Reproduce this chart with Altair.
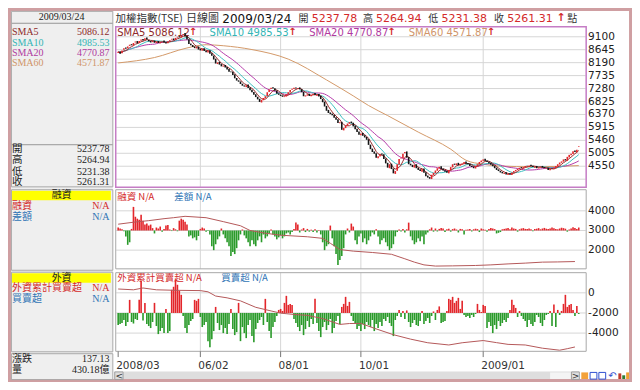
import altair as alt
import pandas as pd

W, H = 624, 374
SX, SY = W / 640.0, H / 390.0


def X(v):
    return round(v * SX, 2)


def Y(v):
    return round(v * SY, 2)


# ---------------- data ----------------
quote_date = "2009/03/24"
sma_names = ["SMA5", "SMA10", "SMA20", "SMA60"]
sma_last = [5086.12, 4985.53, 4770.87, 4571.87]
ohlc_names = ["開", "高", "低", "收"]
ohlc_last = [5237.78, 5264.94, 5231.38, 5261.31]
change_last = 137.13
volume_text = "430.18億"
margin_title = "融資"
margin_names = ["融資", "差額"]
foreign_title = "外資"
foreign_names = ["外資累計買賣超", "買賣超"]
na_text = "N/A"

close = [
    8572, 8500, 8620, 8700, 8680, 8760, 8820, 8800, 8880, 8930,
    8870, 8950, 9000, 8970, 9050, 9000, 8940, 8900, 8960, 8890,
    8930, 8880, 8920, 8950, 8900, 8860, 8930, 8980, 9030, 8980,
    9060, 9100, 9080, 9150, 9200, 9120, 9000, 8850, 8800, 8740,
    8700, 8740, 8650, 8620, 8680, 8600, 8560, 8610, 8500, 8430,
    8300, 8160, 8200, 8120, 8060, 8090, 8020, 7950, 7870, 7850,
    7760, 7640, 7560, 7520, 7440, 7380, 7350, 7400, 7300, 7220,
    7150, 7060, 6980, 6900, 6810, 6880, 6950, 7010, 7150, 7250,
    7310, 7280, 7200, 7100, 7060, 7020, 6990, 7010, 7080, 7150,
    7230, 7270, 7310, 7280, 7300, 7250, 7150, 7010, 7040, 7080,
    7020, 7060, 7100, 7050, 7080, 7000, 6910, 6800, 6650, 6500,
    6420, 6380, 6340, 6250, 6180, 6070, 6100, 5830, 5900, 5980,
    6050, 6100, 6070, 5950, 5850, 5750, 5660, 5700, 5620, 5560,
    5480, 5300, 5150, 5050, 4990, 4850, 4900, 4980, 4955, 4800,
    4650, 4500, 4620, 4450, 4300, 4380, 4620, 4800, 4850, 4990,
    5050, 4850, 4620, 4580, 4520, 4600, 4480, 4420, 4380, 4450,
    4320, 4200, 4150, 4110, 4250, 4320, 4400, 4480, 4530, 4450,
    4400, 4360, 4320, 4420, 4520, 4620, 4600, 4650, 4580, 4620,
    4650, 4700, 4640, 4620, 4560, 4520, 4480, 4560, 4620, 4700,
    4750, 4790, 4730, 4700, 4650, 4600, 4550, 4480, 4420, 4380,
    4330, 4300, 4320, 4260, 4280, 4250, 4330, 4380, 4420, 4460,
    4500, 4480, 4520, 4560, 4550, 4580, 4560, 4520, 4540, 4480,
    4510, 4540, 4500, 4480, 4480, 4420, 4460, 4450, 4500, 4560,
    4620, 4680, 4720, 4790, 4750, 4880, 4950, 4990, 5080, 5050,
    5125, 5261.31,
]
open_ = [
    8530, 8590, 8520, 8640, 8720, 8690, 8780, 8840, 8790, 8900,
    8950, 8880, 8960, 9020, 8990, 9070, 8990, 8950, 8910, 8970,
    8880, 8950, 8870, 8930, 8970, 8910, 8870, 8940, 9000, 9040,
    8990, 9070, 9120, 9090, 9160, 9230, 9130, 9010, 8860, 8810,
    8760, 8690, 8760, 8670, 8610, 8700, 8610, 8550, 8630, 8520,
    8440, 8330, 8140, 8220, 8140, 8050, 8110, 8040, 7970, 7880,
    7870, 7780, 7650, 7570, 7530, 7450, 7390, 7330, 7420, 7320,
    7240, 7160, 7080, 6990, 6920, 6790, 6870, 6940, 7020, 7160,
    7260, 7330, 7290, 7210, 7110, 7070, 7040, 6980, 7000, 7070,
    7140, 7240, 7260, 7320, 7270, 7320, 7260, 7160, 7000, 7030,
    7100, 7010, 7050, 7120, 7030, 7090, 7020, 6920, 6820, 6670,
    6530, 6440, 6400, 6360, 6270, 6200, 6060, 6110, 5810, 5890,
    5970, 6040, 6120, 6080, 5970, 5870, 5770, 5640, 5720, 5640,
    5580, 5500, 5310, 5170, 5070, 5010, 4830, 4890, 5000, 4970,
    4820, 4670, 4480, 4640, 4470, 4280, 4390, 4610, 4820, 4830,
    5010, 5070, 4870, 4640, 4600, 4500, 4620, 4500, 4440, 4360,
    4470, 4340, 4220, 4170, 4100, 4240, 4310, 4390, 4470, 4550,
    4470, 4410, 4380, 4300, 4410, 4510, 4640, 4590, 4670, 4570,
    4610, 4640, 4720, 4660, 4640, 4570, 4540, 4470, 4550, 4610,
    4690, 4740, 4810, 4750, 4710, 4670, 4620, 4570, 4500, 4440,
    4390, 4350, 4280, 4340, 4240, 4300, 4240, 4320, 4370, 4410,
    4450, 4520, 4470, 4510, 4570, 4540, 4600, 4570, 4500, 4560,
    4470, 4500, 4560, 4520, 4460, 4500, 4410, 4470, 4440, 4490,
    4540, 4610, 4670, 4710, 4800, 4740, 4860, 4940, 4980, 5100,
    5040, 5237.78,
]
sma60_idx = [0, 19, 36, 46, 55, 70, 89, 109, 123, 131, 141, 157, 174, 182, 191, 199, 218, 241]
sma60_val = [8180, 8370, 8706, 8820, 8785, 8650, 8315, 7584, 7023, 6684, 6330, 5750, 5150, 4760,
             4620, 4560, 4530, 4572]

margin_diff = [
    150, 100, 60, -40, -300, -730, -600, 80, 1200, 700,
    600, 550, 800, 500, 300, 350, 250, 300, 120, -150,
    150, 100, 200, -60, 80, 250, 280, 50, -30, 120,
    60, -40, 500, 600, 550, 450, 300, -300, -250, -400,
    -350, -500, -280, 80, 150, 100, -60, -30, -200, -800,
    -1000, -700, -450, -300, 100, -200, -400, -600, -800, -1300,
    -1100, -1200, -900, -500, -200, 50, -250, -400, -600, -800,
    -500, -700, -800, -500, -300, -600, -200, -400, -300, -150,
    50, -200, -300, -450, -350, -250, -400, -300, -150, -100,
    -200, -80, 80, 400, 300, -100, 50, 120, -80, 80,
    -60, 40, -80, 60, -100, 30, -200, -600, -1000, -800,
    -700, 250, -400, -800, -1200, -1750, -1500, -1300, -900, -200,
    100, -100, 350, 200, -500, -700, -300, -150, -600, -400,
    -700, -500, -300, -100, -200, 60, -300, -700, -500, -400,
    -600, -800, -1000, -900, -700, -300, -80, 50, -50, 80,
    -100, 60, 400, -300, -500, -700, -600, -400, -550, -300,
    -700, -200, -100, 60, 150, -60, 100, -50, 80, 120,
    100, -80, 60, 90, -60, 70, 100, 50, -100, 80,
    60, -200, 40, 50, 80, -50, 60, 90, 70, -80,
    100, 60, 40, -60, 80, 120, 100, 70, -150, -120,
    -80, 60, 80, 100, 130, 60, 150, 100, 80, -60,
    60, 100, 120, 80, 70, 100, 60, -40, 80, 90,
    120, 60, 100, 130, 90, 70, 100, 150, 110, 80,
    60, 100, 140, 120, 90, -60, 50, 100, 160, 120,
    80, 150,
]
margin_idx = [0, 8, 16, 24, 29, 35, 46, 55, 64, 69, 77, 85, 99, 107, 111, 116, 123, 133, 143, 150,
              155, 160, 166, 175, 187, 195, 204, 213, 222, 230, 239]
margin_val = [3320, 3420, 3500, 3600, 3650, 3720, 3650, 3450, 3240, 3000, 2860, 2760, 2680, 2600,
              2350, 2030, 1950, 1880, 1790, 1560, 1390, 1250, 1190, 1200, 1220, 1250, 1300, 1340,
              1390, 1400, 1420]

foreign_diff = [
    -1200, -1100, -1000, -700, -1300, -900, 1300, -900, -1050, -600,
    -700, 1300, 3200, -750, 1000, -1100, -1300, -1500, -900, 1000,
    -1300, -2100, -1800, -1500, -2000, 400, -2000, -1800, 2300, 2600,
    3300, 2800, 2200, 1800, -300, -1500, -2000, -1200, -800, -600,
    1300, 1200, 1400, -400, -1400, -1200, -900, -2800, -3400, -2600,
    -1800, 600, -1000, -1700, -1200, -2000, -1500, -2100, -1100, 400,
    -1600, -2200, -1900, 1000, -2800, -1400, -2000, -2500, -1200, -700,
    -2300, -2900, -1600, -1000, -700, -400, -1200, 1400, -900, -1800,
    -2500, -1400, -900, -300, 300, 400, 200, 1000, 1700, 800,
    900, 800, -600, -1000, -1400, -1800, -1200, -2200, -1600, -800,
    -1400, -600, -1100, 1400, -1000, -1800, -2400, -1400, -900, -1700,
    -1200, -600, -2000, -1500, -800, -300, -1100, 600, 900, 1600,
    700, 1100, -300, -800, -1000, -1600, -1300, -1800, -1100, -1600,
    -900, -1200, -1400, -700, -1800, -1100, -1500, -900, -1300, -600,
    -800, -400, -1000, -1300, -2300, -700, -300, 300, -400, 200,
    -600, 250, -900, -1400, -1000, -700, -1200, -1300, -800, 200,
    -1100, -800, -500, -1000, -300, 150, -700, 300, 650, -1000,
    -900, -800, 200, 1400, 1300, 1600, 1000, 1200, 1500, 400,
    1200, -200, -400, -300, -500, -200, -400, -100, 900, 300,
    100, 800, 700, -1500, -900, -1300, -2000, -1200, -1600, -800,
    -1300, -1000, -700, -900, -500, 300, 1300, 800, 500, -400,
    200, -300, -600, -800, -1400, -700, -1100, -1300, -900, -200,
    -400, -1000, -1300, -700, -200, -100, 200, -1300, 850, -1400,
    300, -200, 200, 900, 1800, 600, 800, 900, 300, -300,
    700, -100,
]
foreign_idx = [0, 8, 13, 20, 30, 43, 47, 51, 57, 64, 72, 80, 85, 92, 99, 107, 116, 121, 127, 134,
               144, 153, 162, 173, 180, 191, 198, 204, 213, 222, 231, 235, 239]
foreign_val = [380, 300, 480, 300, 250, 220, 100, -320, -500, -800, -1440, -1800, -2020, -2150,
               -2240, -2560, -3140, -3050, -3040, -3520, -4160, -4600, -4960, -5180, -4960, -4740,
               -4950, -5120, -5180, -5500, -5700, -5550, -5380]

tick_idx = [0, 43, 85, 127, 191]
tick_labels = ["2008/03", "06/02", "08/01", "10/01", "2009/01"]
price_ticks = [9100, 8645, 8190, 7735, 7280, 6825, 6370, 5915, 5460, 5005, 4550]
price_grid = price_ticks + [4095]
margin_ticks = [4000, 3000, 2000]
foreign_ticks = [0, -2000, -4000]

# ---------------- styles ----------------
SANS = "DejaVu Sans"
CJK = "Noto Sans CJK TC"
SERIF = "Liberation Serif, Noto Sans CJK TC"
RED_T = "#d42a2a"
BLUE_T = "#2f74b5"
UP, DOWN = "#e3262b", "#141414"
BAR_RED, BAR_GREEN = "#e3262b", "#2a9a2a"
GRID = "#d6d6d6"
SMA_LINE = ["#9a2c2c", "#3cc0c0", "#b63cab", "#d49a6a"]
SMA_TEXT = ["#8e2a2a", "#33b5b5", "#b03aa0", "#d0956a"]
SUB_LINE = "#b5595a"


def sc(domain, rng):
    return alt.Scale(domain=domain, range=rng, zero=False, nice=False)


XS = sc([0, 241], [X(113), X(585.4)])
YP = sc([4550, 9100], [Y(165), Y(30)])
YM = sc([2000, 4000], [Y(252.5), Y(211.5)])
YF = sc([-4000, 0], [Y(339), Y(297)])


def xq(f):
    return alt.X(f"{f}:Q", scale=XS, axis=None)


def yq(f, s):
    return alt.Y(f"{f}:Q", scale=s, axis=None)


def texts(rows, font, align="left", weight="normal"):
    d = pd.DataFrame(rows, columns=["t", "x", "y", "c", "s"])
    d["x"] = d["x"] * SX
    d["y"] = d["y"] * SY
    return alt.Chart(d).mark_text(align=align, baseline="middle", font=font, fontWeight=weight).encode(
        x=alt.X("x:Q", scale=None, axis=None), y=alt.Y("y:Q", scale=None, axis=None),
        text="t:N", color=alt.Color("c:N", scale=None), size=alt.Size("s:Q", scale=None))


def boxes(rows, outline=False):
    d = pd.DataFrame(rows, columns=["xa", "ya", "xb", "yb", "c", "w"])
    d["xa"] = d["xa"] * SX
    d["xb"] = d["xb"] * SX
    d["ya"] = d["ya"] * SY
    d["yb"] = d["yb"] * SY
    enc = dict(x=alt.X("xa:Q", scale=None, axis=None), x2="xb",
               y=alt.Y("ya:Q", scale=None, axis=None), y2="yb")
    if outline:
        return alt.Chart(d).mark_rect(fillOpacity=0).encode(
            stroke=alt.Stroke("c:N", scale=None), strokeWidth=alt.StrokeWidth("w:Q", scale=None), **enc)
    return alt.Chart(d).mark_rect().encode(color=alt.Color("c:N", scale=None), **enc)


def hgrid(vals, ys):
    return alt.Chart(pd.DataFrame({"v": vals})).mark_rule(color=GRID, strokeWidth=1).encode(
        y=yq("v", ys), x=alt.value(X(111)), x2=alt.value(X(592.5)))


def vgrid(y1, y2):
    return alt.Chart(pd.DataFrame({"i": tick_idx[1:]})).mark_rule(color=GRID, strokeWidth=1).encode(
        x=xq("i"), y=alt.value(Y(y1)), y2=alt.value(Y(y2)))


def ylab(vals, ys):
    d = pd.DataFrame({"v": vals, "t": [str(v) for v in vals]})
    return alt.Chart(d).mark_text(align="left", baseline="middle", font=SANS, fontSize=10.5,
                                  color="#222222").encode(y=yq("v", ys), x=alt.value(X(595)), text="t:N")


def line(df, xf, yf, ys, color, interp="linear", w=1.0):
    return alt.Chart(df).mark_line(color=color, strokeWidth=w, interpolate=interp).encode(
        x=xq(xf), y=yq(yf, ys))


# ---------------- frames ----------------
fill_rows = [
    (3, 3, 107.5, 387.5, "#efefef", 0),
    (3.5, 190.5, 105.5, 200.5, "#ffff00", 0),
    (3.5, 276.5, 105.5, 286.5, "#ffff00", 0),
    (109, 379, 586, 388, "#dedede", 0),
    (556, 380, 577, 387, "#f4f4f4", 0),
    (588, 380, 595, 387, "#f3a23a", 0),
    (626, 381, 629, 387, "#c0392b", 0),
    (630, 383, 633, 387, "#2e7d32", 0),
    (634, 380, 637, 387, "#f0a030", 0),
]
outline_rows = [
    (1.5, 1.5, 638.5, 388.5, "#cf9fa2", 3),
    (3.5, 3.5, 107.5, 186.5, "#a9a9a9", 1),
    (3.5, 189.5, 107.5, 273.5, "#a9a9a9", 1),
    (3.5, 275.5, 107.5, 358.5, "#a9a9a9", 1),
    (3.5, 360.5, 107.5, 387.5, "#a9a9a9", 1),
    (110.5, 19.5, 593, 187, "#c57dc5", 1.5),
    (110.5, 189.5, 593, 272, "#a8a8a8", 1),
    (110.5, 276, 593, 358, "#a8a8a8", 1),
    (109.5, 379.5, 118, 387.5, "#a0a0a0", 1),
    (578, 379.5, 586, 387.5, "#a0a0a0", 1),
    (597, 380, 604, 387, "#3050d0", 1),
    (606, 380, 613, 387, "#3050d0", 1),
    (3.5, 16, 107.5, 16, "#a9a9a9", 1),
    (3.5, 142.5, 107.5, 142.5, "#a9a9a9", 1),
]

# ---------------- data frames ----------------
px = pd.DataFrame({"i": range(len(close)), "o": open_, "c": close})
px["x0"] = px["i"] - 0.42
px["x1"] = px["i"] + 0.42
for w in (5, 10, 20):
    px[f"s{w}"] = px["c"].rolling(w, min_periods=1).mean()
s60 = pd.DataFrame({"i": sma60_idx, "v": sma60_val})

md = pd.DataFrame({"i": range(len(margin_diff)), "d": margin_diff})
md["x0"] = md["i"] - 0.42
md["x1"] = md["i"] + 0.42
md["b"] = 3000
md["t"] = 3000 + md["d"]
ml = pd.DataFrame({"i": margin_idx, "v": margin_val})

fd = pd.DataFrame({"i": range(len(foreign_diff)), "d": foreign_diff})
fd["x0"] = fd["i"] - 0.42
fd["x1"] = fd["i"] + 0.42
fd["b"] = -2000
fd["t"] = -2000 + fd["d"]
fl = pd.DataFrame({"i": foreign_idx, "v": foreign_val})

candles = alt.Chart(px).mark_rect().encode(
    x=xq("x0"), x2="x1", y=yq("o", YP), y2="c",
    color=alt.condition("datum.c >= datum.o", alt.value(UP), alt.value(DOWN)))
mbars = alt.Chart(md).mark_rect().encode(
    x=xq("x0"), x2="x1", y=yq("b", YM), y2="t",
    color=alt.condition("datum.d >= 0", alt.value(BAR_RED), alt.value(BAR_GREEN)))
fbars = alt.Chart(fd).mark_rect().encode(
    x=xq("x0"), x2="x1", y=yq("b", YF), y2="t",
    color=alt.condition("datum.d >= 0", alt.value(BAR_RED), alt.value(BAR_GREEN)))

td = pd.DataFrame({"i": tick_idx, "t": tick_labels})
xticks = alt.Chart(td).mark_rule(color="#777777").encode(
    x=xq("i"), y=alt.value(Y(358)), y2=alt.value(Y(364)))
xlabels = alt.Chart(td).mark_text(align="left", baseline="middle", font=SANS, fontSize=10.5,
                                  color="#333333", dx=-2).encode(
    x=xq("i"), y=alt.value(Y(373.5)), text="t:N")

# ---------------- texts ----------------
legend_x = [112, 206.7, 309, 411]
arrow_x = [185.5, 287.5, 389, 491]
legend_rows = [(f"{n} {v:.2f}", lx, 25.8, c, 10)
               for n, v, lx, c in zip(sma_names, sma_last, legend_x, SMA_TEXT)]
arrow_rows = [("↑", ax, 25.3, RED_T, 10) for ax in arrow_x] + [("↑", 562.5, 10.5, RED_T, 11)]

title_cjk = [("加權指數(TSE)", 110.3, 11, "#333333", 10.5), ("日線圖", 182.6, 11, "#333333", 11)]
title_num = [(quote_date, 219.8, 11, "#111111", 12)]
hx = [298, 364, 431, 498.5]
vx = [311.5, 377.5, 444.5, 512]
for n, v, a, b in zip(ohlc_names, ohlc_last, hx, vx):
    title_cjk.append((n, a, 11, "#333333", 10))
    title_num.append((f"{v:.2f}", b, 11, RED_T, 11))
title_cjk.append(("點", 573.5, 11, "#333333", 10))

sub_legend = [
    (f"{margin_names[0]} {na_text}", 112, 197, RED_T, 9.5),
    (f"{margin_names[1]} {na_text}", 170.6, 197, BLUE_T, 9.5),
    (f"{foreign_names[0]} {na_text}", 112, 282, RED_T, 9.5),
    (f"{foreign_names[1]} {na_text}", 218.8, 282, BLUE_T, 9.5),
]

sma_y = [25.3, 36, 46.7, 57.5]
ohlc_y = [147.5, 159, 170.5, 181.5]
left_l = [(n, 4, y, c, 10) for n, y, c in zip(sma_names, sma_y, SMA_TEXT)]
left_r = [(f"{v:.2f}", 104, y, c, 10) for v, y, c in zip(sma_last, sma_y, SMA_TEXT)]
for n, v, y in zip(ohlc_names, ohlc_last, ohlc_y):
    left_l.append((n, 4, y, "#222222", 10.5))
    left_r.append((f"{v:.2f}", 104, y, "#222222", 10))
for names, ys in ((margin_names, [206, 217.5]), (foreign_names, [292, 303.5])):
    for n, y, c in zip(names, ys, [RED_T, BLUE_T]):
        left_l.append((n, 4, y, c, 10))
        left_r.append((na_text, 104, y, c, 10))
left_l += [("漲跌", 4, 366.5, "#222222", 10), ("量", 4, 378, "#222222", 10)]
left_r += [(f"{change_last:.2f}", 104, 366.5, "#222222", 10), (volume_text, 104, 378, "#222222", 10)]
left_c = [(quote_date, 55, 9.5, "#222222", 10), (margin_title, 55, 195.5, "#222222", 10),
          (foreign_title, 55, 281.5, "#222222", 10)]
misc_c = [("<", 114, 383.5, "#333333", 9), (">", 582, 383.5, "#333333", 9),
          ("↶", 620, 383.5, "#3050d0", 10)]

layers = [
    boxes(fill_rows),
    hgrid(price_grid, YP), hgrid(margin_ticks, YM), hgrid(foreign_ticks, YF),
    vgrid(19.5, 187), vgrid(189.5, 272), vgrid(276, 358),
    texts(legend_rows, SANS),
    texts(arrow_rows, SANS, "left", "bold"),
    texts(sub_legend, CJK),
    line(s60, "i", "v", YP, SMA_LINE[3], "monotone"),
    line(px, "i", "s20", YP, SMA_LINE[2]),
    line(px, "i", "s10", YP, SMA_LINE[1]),
    line(px, "i", "s5", YP, SMA_LINE[0]),
    candles,
    mbars, line(ml, "i", "v", YM, SUB_LINE),
    fbars, line(fl, "i", "v", YF, SUB_LINE),
    boxes(outline_rows, outline=True),
    ylab(price_ticks, YP), ylab(margin_ticks, YM), ylab(foreign_ticks, YF),
    xticks, xlabels,
    texts(title_cjk, CJK), texts(title_num, SANS),
    texts(left_l, SERIF), texts(left_r, SERIF, "right"), texts(left_c, SERIF, "center"),
    texts(misc_c, SANS, "center"),
]

chart = alt.layer(*layers).properties(
    width=W, height=H, autosize=alt.AutoSizeParams(type="none"), padding=0
).resolve_scale(x="independent", y="independent").configure_view(stroke="transparent")

chart.save("out.html", embed_options={"renderer": "svg", "actions": False})
